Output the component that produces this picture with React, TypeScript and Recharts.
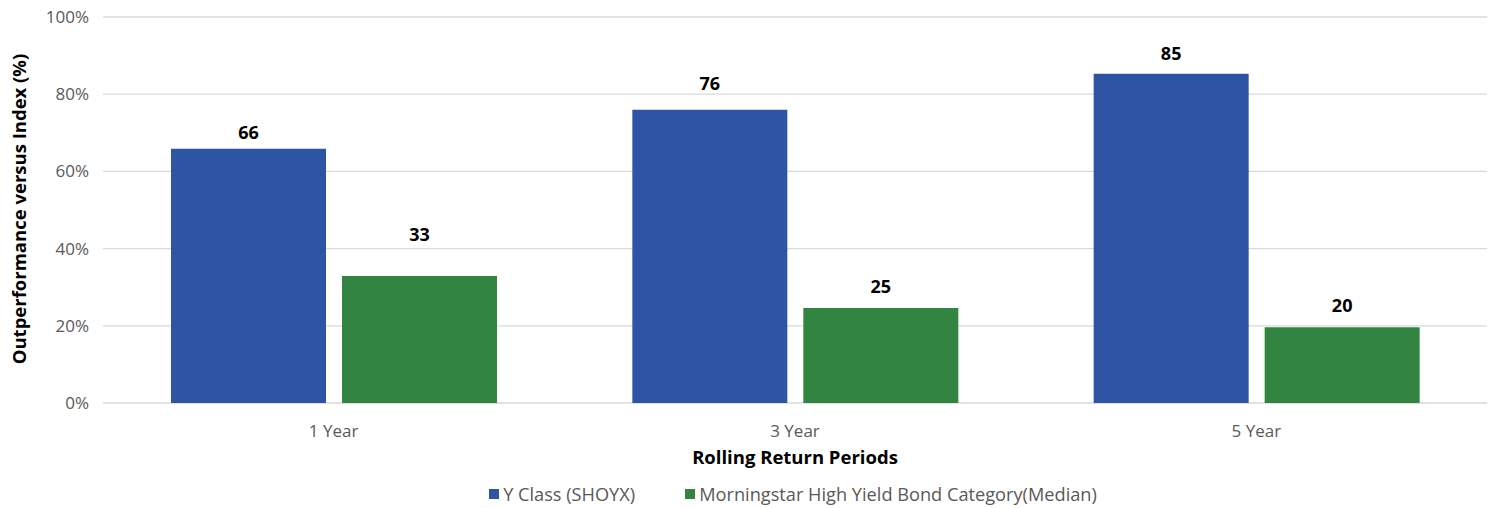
import { Bar, BarChart, CartesianGrid, LabelList, XAxis, YAxis } from "recharts";

const periods = ["1 Year", "3 Year", "5 Year"];
const yClass = [65.9, 76, 85.3];
const morningstar = [32.9, 24.6, 19.6];
const yTicks = [0, 20, 40, 60, 80, 100];

const data = periods.map((period, i) => ({
  period,
  yClass: yClass[i],
  morningstar: morningstar[i],
}));

// extra lift (px) of each value label above its bar, as placed in the source chart
const labelLift: Record<string, number[]> = {
  yClass: [0, 10, 4],
  morningstar: [25, 5, 5],
};

const series = [
  { key: "yClass", name: "Y Class (SHOYX)", color: "#2E55A3" },
  { key: "morningstar", name: "Morningstar High Yield Bond Category(Median)", color: "#318540" },
];

const FONT = "'Open Sans', sans-serif";
const GRAY = "#595959";

const YTitle = () => (
  <text
    x={18}
    y={209}
    transform="rotate(-90 18 209)"
    textAnchor="middle"
    dominantBaseline="central"
    fontFamily={FONT}
    fontWeight={700}
    fontSize={18.5}
    fill="#000"
  >
    Outperformance versus Index (%)
  </text>
);

const valueLabel = (seriesKey: string) => (props: any) => {
  const { x, y, width, value, index } = props;
  const lift = labelLift[seriesKey][index] ?? 0;
  return (
    <text
      x={Number(x) + Number(width) / 2}
      y={Number(y) - 17 - lift}
      textAnchor="middle"
      dominantBaseline="central"
      fontFamily={FONT}
      fontWeight={700}
      fontSize={18}
      fill="#000"
    >
      {Math.round(Number(value))}
    </text>
  );
};

export default function App() {
  return (
    <div style={{ position: "absolute", left: 0, top: 0, width: 1494, height: 508, background: "#fff" }}>
      <BarChart
        width={1494}
        height={508}
        data={data}
        margin={{ top: 17, right: 7, bottom: 0, left: 8 }}
        barSize={155}
        barGap={16}
      >
        <CartesianGrid vertical={false} stroke="#d9d9d9" strokeWidth={1.3} />
        <XAxis
          dataKey="period"
          height={105}
          axisLine={false}
          tickLine={false}
          tick={{ fill: GRAY, fontFamily: FONT, fontSize: 17 }}
          tickMargin={16}
          label={{
            value: "Rolling Return Periods",
            position: "insideTop",
            offset: 48,
            fill: "#000",
            fontFamily: FONT,
            fontWeight: 700,
            fontSize: 18.5,
          }}
        />
        <YAxis
          width={95}
          domain={[0, 100]}
          ticks={yTicks}
          axisLine={false}
          tickLine={false}
          tickFormatter={(v: number) => `${v}%`}
          tick={{ fill: GRAY, fontFamily: FONT, fontSize: 17 }}
          tickMargin={8}
          label={<YTitle />}
        />
        {series.map((s) => (
          <Bar key={s.key} dataKey={s.key} name={s.name} fill={s.color} isAnimationActive={false}>
            <LabelList dataKey={s.key} content={valueLabel(s.key)} />
          </Bar>
        ))}
      </BarChart>
      <div
        style={{
          position: "absolute",
          left: 0,
          width: 1494,
          top: 482,
          display: "flex",
          justifyContent: "center",
          gap: 50,
          paddingLeft: 92,
          boxSizing: "border-box",
          fontFamily: FONT,
          fontSize: 18.2,
          color: GRAY,
        }}
      >
        {series.map((s) => (
          <div key={s.key} style={{ display: "flex", alignItems: "center" }}>
            <span style={{ width: 10, height: 10, background: s.color, marginRight: 4 }} />
            <span>{s.name}</span>
          </div>
        ))}
      </div>
    </div>
  );
}
